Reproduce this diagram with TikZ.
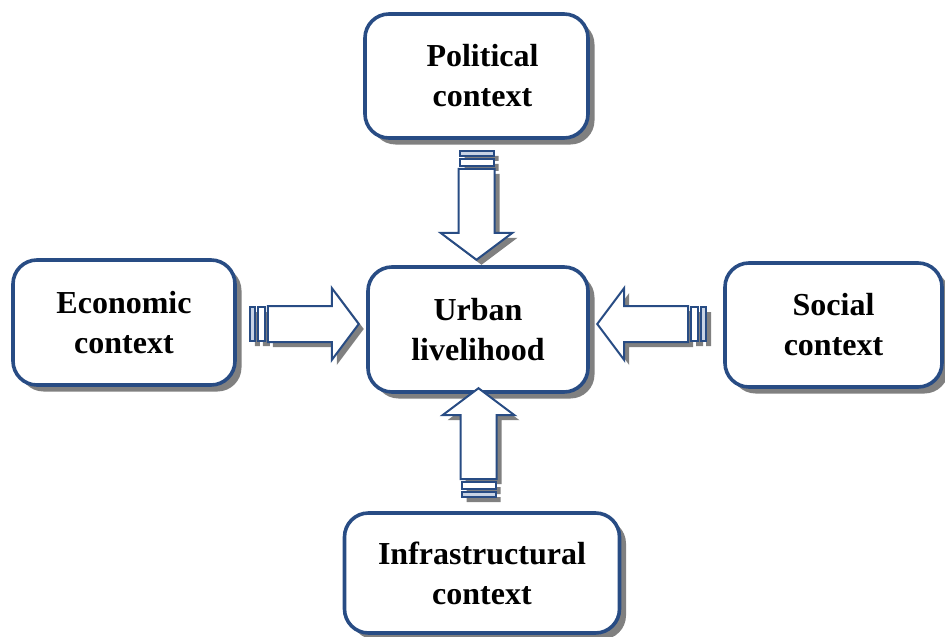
\documentclass[tikz,border=0pt]{standalone}
\usepackage{fontspec}
\setmainfont{Liberation Serif}
\usetikzlibrary{calc,shadows}
\definecolor{edgeblue}{RGB}{40,76,132}
\definecolor{shade}{RGB}{128,128,128}
\definecolor{stripefill}{RGB}{200,211,228}
\tikzset{
  ctxbox/.style={draw=edgeblue, line width=3.6pt, rounded corners=24pt, fill=white,
    align=center, inner sep=0pt, font=\bfseries\fontsize{32}{40}\selectfont,
    drop shadow={shadow xshift=6.5pt, shadow yshift=-6.5pt, fill=shade, opacity=1}},
  arrowline/.style={draw=edgeblue, line width=2pt, line join=miter, fill=white},
  arrowshade/.style={fill=shade}
}
% Hollow block arrow with a striped tail; #1 = tail coordinate, #2 = direction
\newcommand\blockarrow[2]{%
  \begin{scope}[shift={(#1)}, xshift=5pt, yshift=-5pt, rotate=#2]
    \fill[arrowshade] (0,-17) rectangle (5,17) (8,-17) rectangle (15,17);
    \fill[arrowshade] (18,-18) -- (82,-18) -- (82,-36) -- (109,0) -- (82,36) -- (82,18) -- (18,18) -- cycle;
  \end{scope}
  \begin{scope}[shift={(#1)}, rotate=#2]
    \filldraw[arrowline, fill=stripefill] (0,-17) rectangle (5,17);
    \filldraw[arrowline] (8,-17) rectangle (15,17);
    \filldraw[arrowline] (18,-18) -- (82,-18) -- (82,-36) -- (109,0) -- (82,36) -- (82,18) -- (18,18) -- cycle;
  \end{scope}}
\begin{document}
\begin{tikzpicture}[x=1pt, y=-1pt]
  \useasboundingbox (0,0) rectangle (945,637);

  \node[ctxbox, minimum width=223pt, minimum height=124pt] (pol) at (476.5,76) {\hspace*{12pt}Political\\\hspace*{12pt}context};
  \node[ctxbox, minimum width=222pt, minimum height=125pt] (eco) at (124,322.5) {Economic\\context};
  \node[ctxbox, minimum width=220pt, minimum height=125pt] (urb) at (478,329.5) {Urban\\livelihood};
  \node[ctxbox, minimum width=217pt, minimum height=124pt] (soc) at (833.5,325) {Social\\context};
  \node[ctxbox, minimum width=275pt, minimum height=120pt] (inf) at (482,573) {Infrastructural\\context};

  \coordinate (tdown)  at ($(pol.south -| urb.center)+(-1.5,11)$);
  \coordinate (tup)    at ($(inf.north -| urb.center)+(0.5,-14)$);
  \coordinate (tright) at ($(eco.east)+(13,1.5)$);
  \coordinate (tleft)  at ($(soc.west)+(-17,-1)$);

  \blockarrow{tdown}{-90}
  \blockarrow{tup}{90}
  \blockarrow{tright}{0}
  \blockarrow{tleft}{180}
\end{tikzpicture}
\end{document}
